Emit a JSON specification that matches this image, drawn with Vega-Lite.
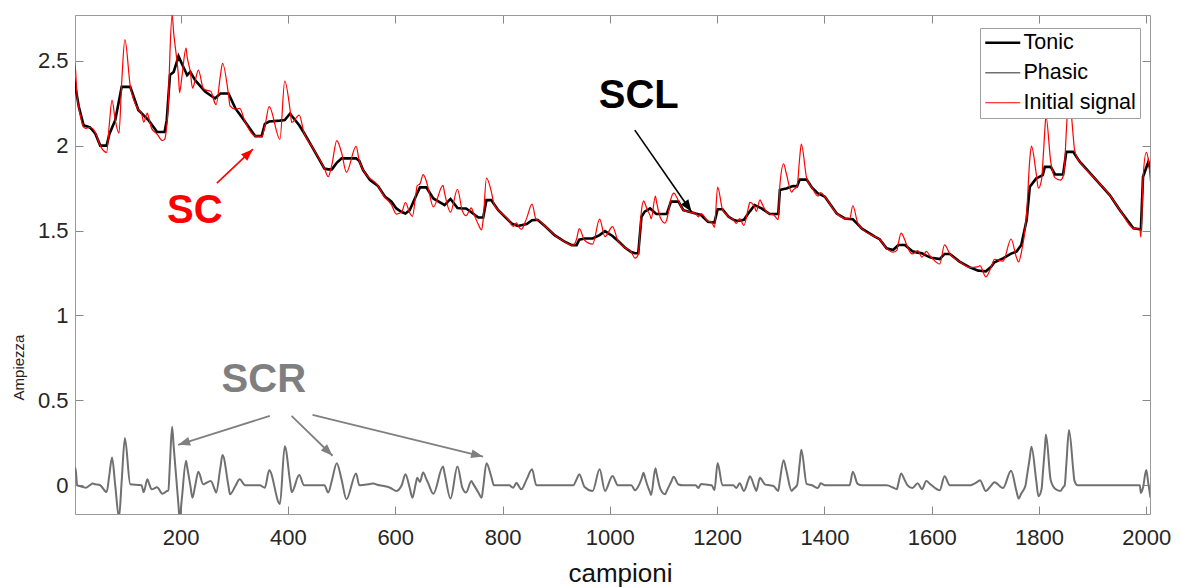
{
"$schema": "https://vega.github.io/schema/vega-lite/v6.json",
"width": 1075, "height": 499,
"autosize": {"type": "none"},
"padding": {"left": 75, "top": 15, "right": 30, "bottom": 73},
"background": "#ffffff",
"config": {"view": {"stroke": null}, "font": "Liberation Sans", "axis": {"grid": false}},
"datasets": {
"sig": [
{"x":1,"t":2.4,"p":0.1,"i":2.5},{"x":4,"t":2.343,"p":0.1,"i":2.443},{"x":7,"t":2.287,"p":0,"i":2.287},{"x":10,"t":2.23,"p":-0.003,"i":2.227},{"x":19,"t":2.12,"p":-0.011,"i":2.109},{"x":23,"t":2.116,"p":-0.014,"i":2.102},{"x":31,"t":2.107,"p":0.001,"i":2.108},{"x":36,"t":2.089,"p":0.01,"i":2.099},{"x":41,"t":2.07,"p":0.006,"i":2.076},{"x":50,"t":2.0,"p":0,"i":2.0},{"x":62,"t":2.0,"p":-0.04,"i":1.96},{"x":67,"t":2.067,"p":0.06,"i":2.127},{"x":72,"t":2.105,"p":0.163,"i":2.268},{"x":78,"t":2.15,"p":0,"i":2.15},{"x":85,"t":2.264,"p":-0.19,"i":2.074},{"x":90,"t":2.346,"p":0.023,"i":2.369},{"x":96,"t":2.346,"p":0.278,"i":2.624},{"x":106,"t":2.346,"p":0.006,"i":2.352},{"x":121,"t":2.21,"p":0.002,"i":2.212},{"x":127,"t":2.191,"p":0,"i":2.191},{"x":131,"t":2.178,"p":-0.04,"i":2.138},{"x":138,"t":2.156,"p":0.035,"i":2.191},{"x":140,"t":2.15,"p":0.02,"i":2.17},{"x":146,"t":2.124,"p":-0.024,"i":2.1},{"x":156,"t":2.08,"p":-0.012,"i":2.068},{"x":166,"t":2.08,"p":-0.05,"i":2.03},{"x":170,"t":2.08,"p":-0.043,"i":2.037},{"x":174,"t":2.15,"p":-0.035,"i":2.115},{"x":177,"t":2.283,"p":-0.03,"i":2.253},{"x":180,"t":2.415,"p":0.131,"i":2.546},{"x":184,"t":2.426,"p":0.345,"i":2.771},{"x":187,"t":2.434,"p":0.228,"i":2.662},{"x":196,"t":2.526,"p":-0.122,"i":2.404},{"x":198,"t":2.512,"p":-0.2,"i":2.312},{"x":202,"t":2.483,"p":-0.085,"i":2.398},{"x":210,"t":2.429,"p":0.145,"i":2.574},{"x":212,"t":2.415,"p":0.109,"i":2.524},{"x":218,"t":2.434,"p":0,"i":2.434},{"x":222,"t":2.412,"p":-0.073,"i":2.339},{"x":227,"t":2.385,"p":-0.003,"i":2.382},{"x":233,"t":2.364,"p":0.08,"i":2.444},{"x":242,"t":2.331,"p":0.006,"i":2.337},{"x":246,"t":2.317,"p":0.011,"i":2.328},{"x":256,"t":2.295,"p":0.025,"i":2.32},{"x":264,"t":2.278,"p":-0.029,"i":2.249},{"x":266,"t":2.284,"p":-0.043,"i":2.241},{"x":274,"t":2.307,"p":0.104,"i":2.411},{"x":278,"t":2.307,"p":0.178,"i":2.485},{"x":289,"t":2.307,"p":-0.003,"i":2.304},{"x":292,"t":2.287,"p":-0.053,"i":2.234},{"x":302,"t":2.219,"p":-0.004,"i":2.215},{"x":310,"t":2.184,"p":0.035,"i":2.219},{"x":320,"t":2.14,"p":0,"i":2.14},{"x":339,"t":2.056,"p":0,"i":2.056},{"x":348,"t":2.056,"p":0,"i":2.056},{"x":351,"t":2.056,"p":-0.005,"i":2.051},{"x":357,"t":2.128,"p":-0.014,"i":2.114},{"x":365,"t":2.142,"p":0.088,"i":2.23},{"x":385,"t":2.147,"p":-0.11,"i":2.037},{"x":394,"t":2.15,"p":0.23,"i":2.38},{"x":404,"t":2.189,"p":0.02,"i":2.209},{"x":407,"t":2.176,"p":-0.04,"i":2.136},{"x":421,"t":2.12,"p":0.06,"i":2.18},{"x":430,"t":2.074,"p":0,"i":2.074},{"x":445,"t":1.993,"p":0,"i":1.993},{"x":468,"t":1.865,"p":0,"i":1.865},{"x":475,"t":1.86,"p":-0.043,"i":1.817},{"x":482,"t":1.86,"p":0.03,"i":1.89},{"x":491,"t":1.899,"p":0.13,"i":2.029},{"x":500,"t":1.925,"p":0.033,"i":1.958},{"x":509,"t":1.925,"p":-0.082,"i":1.843},{"x":527,"t":1.925,"p":0.07,"i":1.995},{"x":533,"t":1.91,"p":0,"i":1.91},{"x":540,"t":1.856,"p":0.002,"i":1.858},{"x":553,"t":1.797,"p":0.008,"i":1.805},{"x":559,"t":1.783,"p":0.01,"i":1.793},{"x":568,"t":1.762,"p":0.002,"i":1.764},{"x":571,"t":1.747,"p":0,"i":1.747},{"x":581,"t":1.699,"p":-0.006,"i":1.693},{"x":587,"t":1.685,"p":-0.01,"i":1.675},{"x":593,"t":1.67,"p":-0.019,"i":1.651},{"x":602,"t":1.63,"p":-0.033,"i":1.597},{"x":612,"t":1.609,"p":0,"i":1.609},{"x":619,"t":1.6,"p":0.065,"i":1.665},{"x":627,"t":1.62,"p":-0.016,"i":1.604},{"x":632,"t":1.656,"p":-0.073,"i":1.583},{"x":638,"t":1.699,"p":0.006,"i":1.705},{"x":641,"t":1.72,"p":0.045,"i":1.765},{"x":646,"t":1.754,"p":0.02,"i":1.774},{"x":652,"t":1.754,"p":0.075,"i":1.829},{"x":658,"t":1.754,"p":0.036,"i":1.79},{"x":661,"t":1.739,"p":0.016,"i":1.755},{"x":671,"t":1.689,"p":-0.05,"i":1.639},{"x":689,"t":1.656,"p":0.11,"i":1.766},{"x":692,"t":1.65,"p":0.07,"i":1.72},{"x":703,"t":1.686,"p":-0.078,"i":1.608},{"x":716,"t":1.633,"p":0.11,"i":1.743},{"x":725,"t":1.63,"p":-0.014,"i":1.616},{"x":732,"t":1.63,"p":-0.043,"i":1.587},{"x":742,"t":1.608,"p":0.025,"i":1.633},{"x":745,"t":1.6,"p":0.01,"i":1.61},{"x":755,"t":1.577,"p":-0.042,"i":1.535},{"x":761,"t":1.577,"p":-0.073,"i":1.504},{"x":764,"t":1.577,"p":-0.011,"i":1.566},{"x":770,"t":1.679,"p":0.13,"i":1.809},{"x":779,"t":1.679,"p":0.052,"i":1.731},{"x":784,"t":1.656,"p":0,"i":1.656},{"x":792,"t":1.62,"p":0,"i":1.62},{"x":813,"t":1.554,"p":0,"i":1.554},{"x":817,"t":1.542,"p":-0.01,"i":1.532},{"x":820,"t":1.538,"p":-0.014,"i":1.524},{"x":826,"t":1.53,"p":0.015,"i":1.545},{"x":829,"t":1.527,"p":0.002,"i":1.529},{"x":835,"t":1.531,"p":-0.024,"i":1.507},{"x":845,"t":1.538,"p":0.035,"i":1.573},{"x":855,"t":1.561,"p":0.094,"i":1.655},{"x":863,"t":1.563,"p":0,"i":1.563},{"x":866,"t":1.562,"p":0,"i":1.562},{"x":879,"t":1.527,"p":0,"i":1.527},{"x":897,"t":1.473,"p":0,"i":1.473},{"x":916,"t":1.434,"p":0,"i":1.434},{"x":929,"t":1.414,"p":0,"i":1.414},{"x":932,"t":1.414,"p":0,"i":1.414},{"x":938,"t":1.414,"p":0.035,"i":1.449},{"x":943,"t":1.446,"p":0.065,"i":1.511},{"x":953,"t":1.453,"p":-0.01,"i":1.443},{"x":968,"t":1.453,"p":-0.033,"i":1.42},{"x":981,"t":1.473,"p":0.094,"i":1.567},{"x":991,"t":1.497,"p":-0.033,"i":1.464},{"x":1005,"t":1.468,"p":0.055,"i":1.523},{"x":1015,"t":1.44,"p":0,"i":1.44},{"x":1028,"t":1.4,"p":0,"i":1.4},{"x":1040,"t":1.373,"p":0,"i":1.373},{"x":1047,"t":1.366,"p":-0.029,"i":1.337},{"x":1053,"t":1.366,"p":-0.007,"i":1.359},{"x":1059,"t":1.581,"p":0.037,"i":1.618},{"x":1063,"t":1.601,"p":0.074,"i":1.675},{"x":1065,"t":1.611,"p":0.053,"i":1.664},{"x":1070,"t":1.62,"p":0,"i":1.62},{"x":1075,"t":1.63,"p":-0.041,"i":1.589},{"x":1077,"t":1.625,"p":-0.057,"i":1.568},{"x":1085,"t":1.602,"p":0.1,"i":1.702},{"x":1087,"t":1.597,"p":0.073,"i":1.67},{"x":1094,"t":1.597,"p":-0.02,"i":1.577},{"x":1103,"t":1.597,"p":-0.053,"i":1.544},{"x":1106,"t":1.597,"p":-0.034,"i":1.563},{"x":1114,"t":1.67,"p":0.018,"i":1.688},{"x":1119,"t":1.67,"p":0.05,"i":1.72},{"x":1128,"t":1.67,"p":0.005,"i":1.675},{"x":1137,"t":1.62,"p":0,"i":1.62},{"x":1155,"t":1.605,"p":0,"i":1.605},{"x":1160,"t":1.6,"p":0,"i":1.6},{"x":1165,"t":1.596,"p":-0.016,"i":1.58},{"x":1170,"t":1.591,"p":0.008,"i":1.599},{"x":1183,"t":1.552,"p":0.003,"i":1.555},{"x":1190,"t":1.549,"p":0,"i":1.549},{"x":1195,"t":1.547,"p":-0.029,"i":1.518},{"x":1201,"t":1.625,"p":0.131,"i":1.756},{"x":1210,"t":1.625,"p":0,"i":1.625},{"x":1221,"t":1.582,"p":0,"i":1.582},{"x":1230,"t":1.564,"p":0,"i":1.564},{"x":1236,"t":1.558,"p":-0.016,"i":1.542},{"x":1242,"t":1.558,"p":0.012,"i":1.57},{"x":1250,"t":1.563,"p":-0.033,"i":1.53},{"x":1258,"t":1.6,"p":0.03,"i":1.63},{"x":1261,"t":1.613,"p":0.053,"i":1.666},{"x":1270,"t":1.65,"p":-0.012,"i":1.638},{"x":1273,"t":1.645,"p":-0.033,"i":1.612},{"x":1280,"t":1.635,"p":0.045,"i":1.68},{"x":1283,"t":1.63,"p":0.033,"i":1.663},{"x":1290,"t":1.615,"p":0.004,"i":1.619},{"x":1298,"t":1.597,"p":0,"i":1.597},{"x":1305,"t":1.597,"p":-0.004,"i":1.593},{"x":1314,"t":1.597,"p":-0.033,"i":1.564},{"x":1317,"t":1.738,"p":0.027,"i":1.765},{"x":1324,"t":1.744,"p":0.148,"i":1.892},{"x":1329,"t":1.748,"p":0.088,"i":1.836},{"x":1339,"t":1.759,"p":-0.033,"i":1.726},{"x":1342,"t":1.762,"p":-0.023,"i":1.739},{"x":1349,"t":1.76,"p":0,"i":1.76},{"x":1354,"t":1.8,"p":0.13,"i":1.93},{"x":1357,"t":1.8,"p":0.209,"i":2.009},{"x":1367,"t":1.8,"p":0.008,"i":1.808},{"x":1377,"t":1.752,"p":0,"i":1.752},{"x":1388,"t":1.719,"p":-0.016,"i":1.703},{"x":1393,"t":1.711,"p":0.012,"i":1.723},{"x":1401,"t":1.699,"p":0,"i":1.699},{"x":1423,"t":1.6,"p":0,"i":1.6},{"x":1438,"t":1.571,"p":0,"i":1.571},{"x":1447,"t":1.568,"p":0,"i":1.568},{"x":1453,"t":1.566,"p":0.08,"i":1.646},{"x":1462,"t":1.538,"p":0.008,"i":1.546},{"x":1470,"t":1.511,"p":0,"i":1.511},{"x":1494,"t":1.464,"p":0,"i":1.464},{"x":1503,"t":1.449,"p":0,"i":1.449},{"x":1516,"t":1.395,"p":0,"i":1.395},{"x":1528,"t":1.385,"p":-0.013,"i":1.372},{"x":1535,"t":1.406,"p":-0.023,"i":1.383},{"x":1538,"t":1.415,"p":0.012,"i":1.427},{"x":1543,"t":1.415,"p":0.07,"i":1.485},{"x":1550,"t":1.415,"p":0.029,"i":1.444},{"x":1555,"t":1.402,"p":0,"i":1.402},{"x":1564,"t":1.378,"p":-0.016,"i":1.362},{"x":1574,"t":1.37,"p":0.012,"i":1.382},{"x":1582,"t":1.366,"p":-0.023,"i":1.343},{"x":1590,"t":1.352,"p":0.025,"i":1.377},{"x":1597,"t":1.342,"p":0.008,"i":1.35},{"x":1600,"t":1.34,"p":0,"i":1.34},{"x":1615,"t":1.332,"p":-0.029,"i":1.303},{"x":1624,"t":1.362,"p":0.053,"i":1.415},{"x":1634,"t":1.362,"p":0,"i":1.362},{"x":1652,"t":1.317,"p":0,"i":1.317},{"x":1671,"t":1.283,"p":0,"i":1.283},{"x":1687,"t":1.264,"p":0.024,"i":1.288},{"x":1690,"t":1.263,"p":0.03,"i":1.293},{"x":1701,"t":1.26,"p":-0.033,"i":1.227},{"x":1711,"t":1.287,"p":-0.001,"i":1.286},{"x":1717,"t":1.313,"p":0.018,"i":1.331},{"x":1733,"t":1.336,"p":-0.016,"i":1.32},{"x":1748,"t":1.364,"p":0.086,"i":1.45},{"x":1758,"t":1.376,"p":-0.034,"i":1.342},{"x":1762,"t":1.393,"p":-0.078,"i":1.315},{"x":1767,"t":1.415,"p":-0.048,"i":1.367},{"x":1775,"t":1.533,"p":0,"i":1.533},{"x":1777,"t":1.562,"p":0.041,"i":1.603},{"x":1783,"t":1.758,"p":0.165,"i":1.923},{"x":1786,"t":1.77,"p":0.227,"i":1.997},{"x":1795,"t":1.807,"p":0.026,"i":1.833},{"x":1799,"t":1.813,"p":-0.064,"i":1.749},{"x":1805,"t":1.823,"p":-0.02,"i":1.803},{"x":1807,"t":1.826,"p":0.06,"i":1.886},{"x":1811,"t":1.875,"p":0.219,"i":2.094},{"x":1813,"t":1.875,"p":0.299,"i":2.174},{"x":1822,"t":1.875,"p":0.029,"i":1.904},{"x":1830,"t":1.83,"p":-0.02,"i":1.81},{"x":1840,"t":1.83,"p":-0.033,"i":1.797},{"x":1845,"t":1.83,"p":-0.012,"i":1.818},{"x":1848,"t":1.897,"p":0,"i":1.897},{"x":1851,"t":1.963,"p":0.122,"i":2.085},{"x":1856,"t":1.963,"p":0.326,"i":2.289},{"x":1864,"t":1.963,"p":0.088,"i":2.051},{"x":1866,"t":1.953,"p":0.029,"i":1.982},{"x":1872,"t":1.924,"p":0,"i":1.924},{"x":1876,"t":1.905,"p":0,"i":1.905},{"x":1907,"t":1.797,"p":0,"i":1.797},{"x":1932,"t":1.709,"p":0,"i":1.709},{"x":1951,"t":1.62,"p":0,"i":1.62},{"x":1976,"t":1.513,"p":0,"i":1.513},{"x":1988,"t":1.508,"p":0,"i":1.508},{"x":1990,"t":1.507,"p":-0.045,"i":1.462},{"x":1994,"t":1.817,"p":-0.014,"i":1.803},{"x":2000,"t":1.87,"p":0.09,"i":1.96},{"x":2004,"t":1.905,"p":0.008,"i":1.913},{"x":2008,"t":1.86,"p":-0.074,"i":1.786}
],
"arrows": [
{"g":"SC","x":267.5,"y":1.779,"x2":334.6,"y2":1.979,"a":46.6},
{"g":"SCL","x":1046.6,"y":2.091,"x2":1152.3,"y2":1.611,"a":145.2},
{"g":"SCR","x":366.3,"y":0.409,"x2":195.3,"y2":0.238,"a":252.4},
{"g":"SCR","x":406.7,"y":0.409,"x2":483.1,"y2":0.174,"a":134.3},
{"g":"SCR","x":445.8,"y":0.415,"x2":763.8,"y2":0.169,"a":103.7}
],
"labels": [
{"g":"SC","x":226.5,"y":1.615,"text":"SC"},
{"g":"SCL","x":1054,"y":2.291,"text":"SCL"},
{"g":"SCR","x":355,"y":0.62,"text":"SCR"}
]
},
"layer": [
{
"data": {"name": "sig"},
"mark": {"type": "line", "clip": true, "strokeWidth": 2, "interpolate": "monotone"},
"encoding": {
"x": {"field": "x", "type": "quantitative", "scale": {"domain": [3, 2007], "nice": false, "zero": false},
 "axis": {"orient": "bottom", "values": [200,400,600,800,1000,1200,1400,1600,1800,2000], "format": "d", "tickSize": -8, "tickColor": "#888888", "domainColor": "#999999", "labelFontSize": 22, "labelColor": "#262626", "labelPadding": 21, "labelFlush": false, "title": "campioni", "titleFontSize": 26, "titleFontWeight": "normal", "titleColor": "#111111", "titleBaseline": "alphabetic", "titleY": 67, "titleX": 545}},
"y": {"field": "p", "type": "quantitative", "scale": {"domain": [-0.169, 2.769], "nice": false, "zero": false},
 "axis": {"orient": "left", "values": [0,0.5,1,1.5,2,2.5], "format": "~g", "tickSize": -8, "tickColor": "#888888", "domainColor": "#999999", "labelFontSize": 22, "labelColor": "#262626", "labelPadding": 15, "labelFlush": false, "title": "Ampiezza", "titleFontSize": 15, "titleFontWeight": "normal", "titleColor": "#222222", "titleAngle": -90, "titleX": -57, "titleY": 352, "titleAlign": "center", "titleBaseline": "middle"}},
"color": {"datum": "Phasic", "type": "nominal",
 "scale": {"domain": ["Tonic", "Phasic", "Initial signal"], "range": ["#000000", "#707070", "#ff0000"]},
 "legend": {"orient": "none", "legendX": 905, "legendY": 13, "title": null, "symbolType": "stroke", "symbolSize": 1225, "symbolOffset": 8, "symbolStrokeWidth": 2, "labelFontSize": 21.5, "labelFont": "Liberation Sans", "labelColor": "#000000", "padding": 4, "rowPadding": 7, "labelOffset": 10, "strokeColor": "#a0a0a0", "fillColor": "#ffffff", "labelLimit": 300,
  "encode": {"symbols": {"update": {"strokeWidth": {"signal": "datum.value === 'Tonic' ? 2.6 : datum.value === 'Phasic' ? 1.6 : 1.2"}}}}}}
}
},
{
"data": {"name": "sig"},
"mark": {"type": "line", "clip": true, "strokeWidth": 2.6},
"encoding": {
"x": {"field": "x", "type": "quantitative", "axis": {"orient": "top", "values": [200,400,600,800,1000,1200,1400,1600,1800,2000], "labels": false, "title": null, "tickSize": -8, "tickColor": "#888888", "domainColor": "#999999"}},
"y": {"field": "t", "type": "quantitative", "axis": {"orient": "right", "values": [0,0.5,1,1.5,2,2.5], "labels": false, "title": null, "tickSize": -8, "tickColor": "#888888", "domainColor": "#999999"}},
"color": {"datum": "Tonic", "type": "nominal"}
}
},
{
"data": {"name": "sig"},
"mark": {"type": "line", "clip": true, "strokeWidth": 1.2, "interpolate": "monotone"},
"encoding": {
"x": {"field": "x", "type": "quantitative", "axis": null},
"y": {"field": "i", "type": "quantitative", "axis": null},
"color": {"datum": "Initial signal", "type": "nominal"}
}
},
{
"data": {"name": "arrows"},
"transform": [{"filter": "datum.g === 'SC'"}],
"mark": {"type": "rule", "color": "#ff0000", "strokeWidth": 1.6},
"encoding": {"x": {"field": "x", "type": "quantitative", "axis": null}, "y": {"field": "y", "type": "quantitative", "axis": null}, "x2": {"field": "x2"}, "y2": {"field": "y2"}}
},
{
"data": {"name": "arrows"},
"transform": [{"filter": "datum.g === 'SCL'"}],
"mark": {"type": "rule", "color": "#000000", "strokeWidth": 1.6},
"encoding": {"x": {"field": "x", "type": "quantitative", "axis": null}, "y": {"field": "y", "type": "quantitative", "axis": null}, "x2": {"field": "x2"}, "y2": {"field": "y2"}}
},
{
"data": {"name": "arrows"},
"transform": [{"filter": "datum.g === 'SCR'"}],
"mark": {"type": "rule", "color": "#808080", "strokeWidth": 1.8},
"encoding": {"x": {"field": "x", "type": "quantitative", "axis": null}, "y": {"field": "y", "type": "quantitative", "axis": null}, "x2": {"field": "x2"}, "y2": {"field": "y2"}}
},
{
"data": {"name": "arrows"},
"transform": [{"filter": "datum.g === 'SC'"}],
"mark": {"type": "point", "shape": "M0,0L-0.75,2L0.75,2Z", "filled": true, "opacity": 1, "size": 144, "color": "#ff0000"},
"encoding": {"x": {"field": "x2", "type": "quantitative", "axis": null}, "y": {"field": "y2", "type": "quantitative", "axis": null}, "angle": {"field": "a", "type": "quantitative", "scale": null}}
},
{
"data": {"name": "arrows"},
"transform": [{"filter": "datum.g === 'SCL'"}],
"mark": {"type": "point", "shape": "M0,0L-0.75,2L0.75,2Z", "filled": true, "opacity": 1, "size": 144, "color": "#000000"},
"encoding": {"x": {"field": "x2", "type": "quantitative", "axis": null}, "y": {"field": "y2", "type": "quantitative", "axis": null}, "angle": {"field": "a", "type": "quantitative", "scale": null}}
},
{
"data": {"name": "arrows"},
"transform": [{"filter": "datum.g === 'SCR'"}],
"mark": {"type": "point", "shape": "M0,0L-0.75,2L0.75,2Z", "filled": true, "opacity": 1, "size": 144, "color": "#808080"},
"encoding": {"x": {"field": "x2", "type": "quantitative", "axis": null}, "y": {"field": "y2", "type": "quantitative", "axis": null}, "angle": {"field": "a", "type": "quantitative", "scale": null}}
},
{
"data": {"name": "labels"},
"transform": [{"filter": "datum.g === 'SC'"}],
"mark": {"type": "text", "font": "Liberation Sans", "fontWeight": "bold", "fontSize": 40, "color": "#ff0000", "align": "center", "baseline": "middle"},
"encoding": {"x": {"field": "x", "type": "quantitative", "axis": null}, "y": {"field": "y", "type": "quantitative", "axis": null}, "text": {"field": "text"}}
},
{
"data": {"name": "labels"},
"transform": [{"filter": "datum.g === 'SCL'"}],
"mark": {"type": "text", "font": "Liberation Sans", "fontWeight": "bold", "fontSize": 40, "color": "#000000", "align": "center", "baseline": "middle"},
"encoding": {"x": {"field": "x", "type": "quantitative", "axis": null}, "y": {"field": "y", "type": "quantitative", "axis": null}, "text": {"field": "text"}}
},
{
"data": {"name": "labels"},
"transform": [{"filter": "datum.g === 'SCR'"}],
"mark": {"type": "text", "font": "Liberation Sans", "fontWeight": "bold", "fontSize": 40, "color": "#7f7f7f", "align": "center", "baseline": "middle"},
"encoding": {"x": {"field": "x", "type": "quantitative", "axis": null}, "y": {"field": "y", "type": "quantitative", "axis": null}, "text": {"field": "text"}}
}
],
"resolve": {"axis": {"x": "independent", "y": "independent"}}
}
